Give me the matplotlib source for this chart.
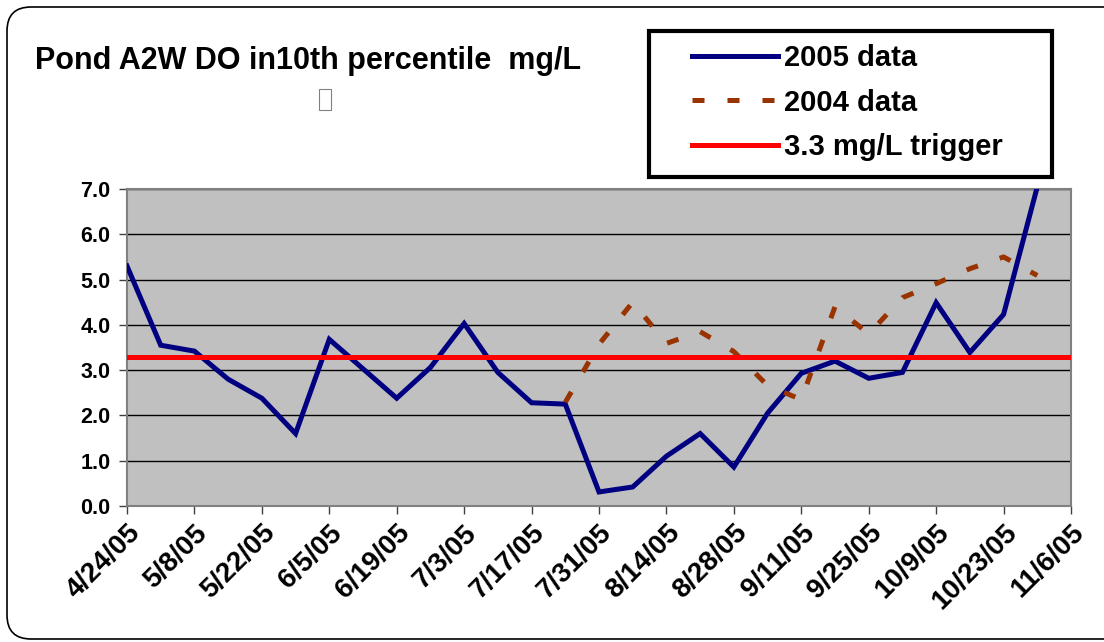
import matplotlib.pyplot as plt
import pandas as pd
from matplotlib.patches import FancyBboxPatch, Rectangle
from matplotlib.transforms import IdentityTransform

# weekly sample dates (2004 values are plotted on the matching 2005 week)
dates_2005 = [
    "2005-04-24", "2005-05-01", "2005-05-08", "2005-05-15", "2005-05-22",
    "2005-05-29", "2005-06-05", "2005-06-12", "2005-06-19", "2005-06-26",
    "2005-07-03", "2005-07-10", "2005-07-17", "2005-07-24", "2005-07-31",
    "2005-08-07", "2005-08-14", "2005-08-21", "2005-08-28", "2005-09-04",
    "2005-09-11", "2005-09-18", "2005-09-25", "2005-10-02", "2005-10-09",
    "2005-10-16", "2005-10-23", "2005-10-30",
]
do_2005 = [
    5.30, 3.55, 3.42, 2.80, 2.38, 1.60, 3.68, 3.03, 2.38, 3.06,
    4.03, 2.95, 2.28, 2.25, 0.31, 0.42, 1.10, 1.60, 0.86, 2.05,
    2.93, 3.20, 2.82, 2.95, 4.49, 3.39, 4.23, 7.05,
]

dates_2004 = [
    "2005-07-24", "2005-07-31", "2005-08-07", "2005-08-14", "2005-08-21",
    "2005-08-28", "2005-09-04", "2005-09-11", "2005-09-18", "2005-09-25",
    "2005-10-02", "2005-10-09", "2005-10-16", "2005-10-23", "2005-10-30",
]
do_2004 = [
    2.29, 3.57, 4.50, 3.59, 3.85, 3.41, 2.66, 2.35, 4.40, 3.80,
    4.60, 4.91, 5.24, 5.50, 5.09,
]

trigger = 3.3

tick_dates = [
    "2005-04-24", "2005-05-08", "2005-05-22", "2005-06-05", "2005-06-19",
    "2005-07-03", "2005-07-17", "2005-07-31", "2005-08-14", "2005-08-28",
    "2005-09-11", "2005-09-25", "2005-10-09", "2005-10-23", "2005-11-06",
]
tick_labels = [
    "4/24/05", "5/8/05", "5/22/05", "6/5/05", "6/19/05", "7/3/05",
    "7/17/05", "7/31/05", "8/14/05", "8/28/05", "9/11/05", "9/25/05",
    "10/9/05", "10/23/05", "11/6/05",
]
y_ticks = [0, 1, 2, 3, 4, 5, 6, 7]

plt.rcParams["font.family"] = ["Liberation Sans", "DejaVu Sans"]
plt.rcParams["font.weight"] = "bold"

W, H = 1104, 642
fig = plt.figure(figsize=(W / 100, H / 100), dpi=100)

# rounded chart-area border (right side runs off the picture)
fig.patches.append(
    FancyBboxPatch(
        (7, 3), 1130, 632,
        boxstyle="round,pad=0,rounding_size=24",
        transform=IdentityTransform(),
        facecolor="none", edgecolor="black", linewidth=1.2, zorder=-1,
    )
)

ax = fig.add_axes([127 / W, (H - 506) / H, (1071 - 127) / W, (506 - 189) / H])
ax.set_facecolor("#c0c0c0")

x05 = pd.to_datetime(dates_2005)
x04 = pd.to_datetime(dates_2004)
ticks = pd.to_datetime(tick_dates)

ax.plot(x05, do_2005, color="#000080", lw=3.6, solid_joinstyle="miter",
        label="2005 data", zorder=3)
ax.plot(x04, do_2004, color="#993300", lw=3.6, linestyle=(0, (2.4, 4.6)),
        dash_capstyle="butt", label="2004 data", zorder=3)
ax.axhline(trigger, color="#ff0000", lw=3.6, label="3.3 mg/L trigger",
           zorder=4)

ax.set_xlim(ticks[0], ticks[-1])
ax.set_ylim(0, 7)
ax.set_yticks(y_ticks)
ax.set_yticklabels([f"{v:.1f}" for v in y_ticks], fontsize=15.5,
                   fontweight="bold")
ax.set_xticks(ticks)
ax.set_xticklabels(tick_labels, rotation=45, ha="right",
                   rotation_mode="anchor", fontsize=20, fontweight="bold")

ax.grid(axis="y", color="black", lw=1)
ax.set_axisbelow(True)
for s in ax.spines.values():
    s.set_color("#808080")
    s.set_linewidth(1.5)
ax.tick_params(length=6, width=1, color="#404040", pad=6)
ax.tick_params(axis="x", pad=4)

fig.text(35 / W, 1 - 69 / H, "Pond A2W DO in10th percentile  mg/L",
         fontsize=22, fontweight="bold", va="baseline", ha="left")
fig.patches.append(
    Rectangle((319, H - 110), 12, 21, transform=IdentityTransform(),
              facecolor="white", edgecolor="#808080", lw=0.8)
)

# legend box drawn separately so its padding can match the original
fig.patches.append(
    Rectangle((649, H - 177), 403, 146, transform=IdentityTransform(),
              facecolor="white", edgecolor="black", lw=3, zorder=-0.5)
)
leg = ax.legend(
    loc="upper left",
    bbox_to_anchor=(692 / W, 1 - 44 / H),
    bbox_transform=fig.transFigure,
    borderaxespad=0,
    borderpad=0,
    prop={"size": 21, "weight": "bold"},
    handlelength=2.95,
    handletextpad=0.22,
    labelspacing=0.57,
    frameon=False,
)

fig.savefig("out.png", dpi=100)
